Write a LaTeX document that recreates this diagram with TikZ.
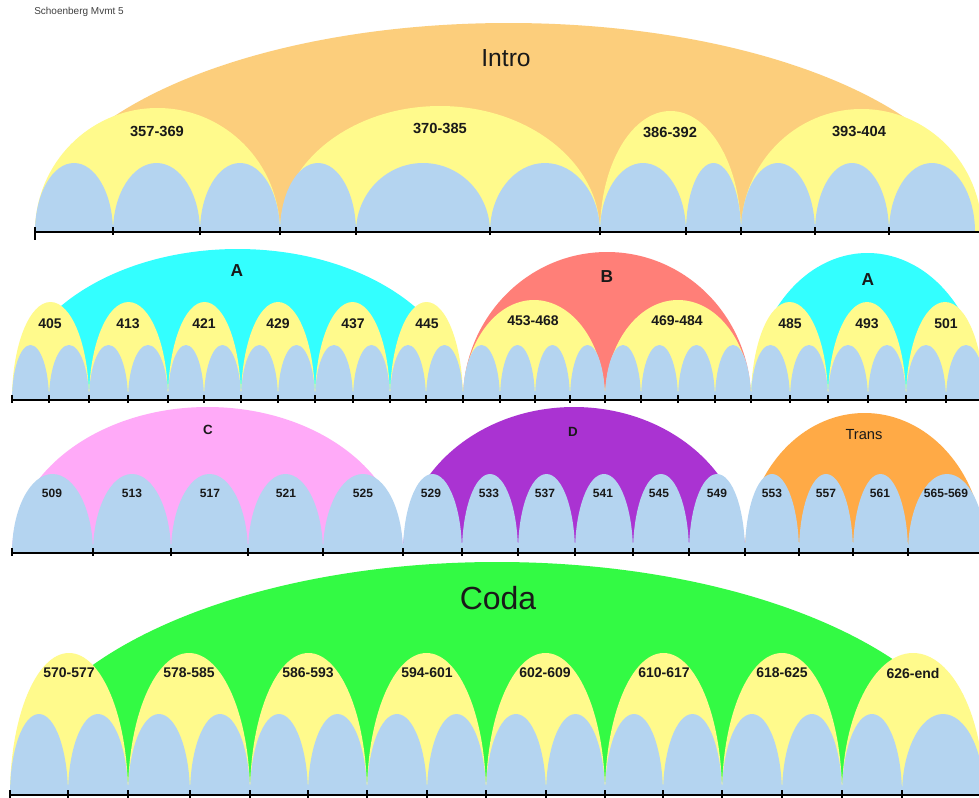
\documentclass[tikz,border=0pt]{standalone}
\usepackage{fontspec}
\setmainfont{Liberation Sans}

\definecolor{blu}{HTML}{B4D4F0}
\definecolor{yel}{HTML}{FFFA8C}
\definecolor{introc}{HTML}{FCCE7C}
\definecolor{cyanA}{HTML}{33FFFF}
\definecolor{redB}{HTML}{FF7F78}
\definecolor{pinkC}{HTML}{FFAAF8}
\definecolor{purpD}{HTML}{AA33D2}
\definecolor{transc}{HTML}{FFAA46}
\definecolor{greenc}{HTML}{33FA44}

% half-ellipse standing on the current baseline \yb: from x=#1 to x=#2, height #3, colour #4
\newcommand\harc[4]{\fill[#4] ({(#1+#2)/2},\yb) ellipse[x radius={(#2-#1)/2}, y radius=#3];}

\begin{document}
\begin{tikzpicture}[x=0.75pt,y=-0.75pt,
  axis/.style={line width=1.6pt, black},
  tickmark/.style={line width=1.4pt, black},
  lab/.style={inner sep=0pt, anchor=center, text=black!90},
  numA/.style={lab, font=\bfseries\fontsize{11}{12}\selectfont},
  numB/.style={lab, font=\bfseries\fontsize{10.5}{12}\selectfont},
  numC/.style={lab, font=\bfseries\fontsize{9}{10}\selectfont},
  sect/.style={lab, font=\bfseries\fontsize{13}{14}\selectfont},
  sectS/.style={lab, font=\bfseries\fontsize{10}{12}\selectfont},
  big/.style={lab, font=\fontsize{18.5}{20}\selectfont},
  huge/.style={lab, font=\fontsize{24}{26}\selectfont}]
\useasboundingbox (0,0) rectangle (979,797);
\fill[white] (0,0) rectangle (979,797);
\clip (0,0) rectangle (979,797);

\node[lab, anchor=west, text=black!75, font=\fontsize{7.5}{9}\selectfont] (title) at (34,12) {Schoenberg Mvmt 5};

% ---------- Intro ----------
\def\yb{232}
\begin{scope}
\clip (0,0) rectangle (979,\yb);
\harc{35}{982}{209}{introc}
\harc{35}{280}{124}{yel}
\harc{280}{600}{126}{yel}
\harc{600}{741}{121}{yel}
\harc{741}{982}{123}{yel}
\foreach \a/\b in {35/113,113/200,200/280,280/356,356/490,490/600,600/686,686/741,741/815,815/889,889/975}
  {\harc{\a}{\b}{69}{blu}}
\end{scope}
\draw[axis] (35,\yb) -- (979,\yb);
\draw[tickmark] (35,\yb-5) -- (35,\yb+8);
\foreach \x in {113,200,280,356,490,600,686,741,815,889}
  {\draw[tickmark] (\x,\yb-5) -- (\x,\yb+3);}
\node[big] (intro) at (506,58) {Intro};
\node[numA] (m357) at (157,131) {357-369};
\node[numA] (m370) at (440,128) {370-385};
\node[numA] (m386) at (670,132) {386-392};
\node[numA] (m393) at (859,131) {393-404};

% ---------- A B A ----------
\def\yb{400}
\begin{scope}
\clip (0,236) rectangle (979,\yb);
\harc{12}{463}{151}{cyanA}
\harc{463}{751}{148}{redB}
\harc{751}{984}{147}{cyanA}
\foreach \a/\b in {12/89,89/168,168/241,241/315,315/390,390/463,751/828,828/906,906/984}
  {\harc{\a}{\b}{98}{yel}}
\foreach \a/\b in {463/605,605/751}
  {\harc{\a}{\b}{100}{yel}}
\foreach \a/\b in {12/49,49/89,89/128,128/168,168/204,204/241,241/278,278/315,315/353,353/390,390/426,426/463,463/500,500/535,535/570,570/605,605/641,641/678,678/715,715/751,751/790,790/828,828/868,868/906,906/946,946/986}
  {\harc{\a}{\b}{55}{blu}}
\end{scope}
\draw[axis] (12,\yb) -- (979,\yb);
\foreach \x in {12,49,89,128,168,204,241,278,315,353,390,426,463,500,535,570,605,641,678,715,751,790,828,868,906,946}
  {\draw[tickmark] (\x,\yb-5) -- (\x,\yb+3);}
\node[sect] (secA) at (237,271) {A};
\node[sect] (secB) at (607,277) {B};
\node[sect] (secA2) at (868,280) {A};
\node[numB] (m405) at (50,324) {405};
\node[numB] (m413) at (128,324) {413};
\node[numB] (m421) at (204,324) {421};
\node[numB] (m429) at (278,324) {429};
\node[numB] (m437) at (353,324) {437};
\node[numB] (m445) at (427,324) {445};
\node[numB] (m453) at (533,321) {453-468};
\node[numB] (m469) at (677,321) {469-484};
\node[numB] (m485) at (790,324) {485};
\node[numB] (m493) at (867,324) {493};
\node[numB] (m501) at (946,324) {501};

% ---------- C D Trans ----------
\def\yb{553}
\begin{scope}
\clip (0,404) rectangle (979,\yb);
\harc{12}{403}{146}{pinkC}
\harc{403}{745}{146}{purpD}
\harc{745}{984}{140}{transc}
\foreach \a/\b in {12/93,93/171,171/248,248/323,323/403,403/462,462/518,518/575,575/633,633/689,689/745,745/799,799/853,853/908,908/986}
  {\harc{\a}{\b}{79}{blu}}
\end{scope}
\draw[axis] (12,\yb) -- (979,\yb);
\foreach \x in {12,93,171,248,323,403,462,518,575,633,689,745,799,853,908}
  {\draw[tickmark] (\x,\yb-5) -- (\x,\yb+3);}
\node[sectS] (secC) at (208,430) {C};
\node[sectS] (secD) at (573,432) {D};
\node[lab, font=\fontsize{11}{12}\selectfont] (secT) at (864,435) {Trans};
\node[numC] (m509) at (52,493) {509};
\node[numC] (m513) at (132,493) {513};
\node[numC] (m517) at (210,493) {517};
\node[numC] (m521) at (286,493) {521};
\node[numC] (m525) at (363,493) {525};
\node[numC] (m529) at (431,493) {529};
\node[numC] (m533) at (489,493) {533};
\node[numC] (m537) at (545,493) {537};
\node[numC] (m541) at (603,493) {541};
\node[numC] (m545) at (659,493) {545};
\node[numC] (m549) at (717,493) {549};
\node[numC] (m553) at (772,493) {553};
\node[numC] (m557) at (826,493) {557};
\node[numC] (m561) at (880,493) {561};
\node[numC] (m565) at (946,493) {565-569};

% ---------- Coda ----------
\def\yb{795}
\begin{scope}
\clip (0,557) rectangle (979,\yb);
\harc{10}{984}{233}{greenc}
\foreach \a/\b in {10/128,128/250,250/367,367/486,486/605,605/722,722/842,842/984}
  {\harc{\a}{\b}{142}{yel}}
\foreach \a/\b in {10/68,68/128,128/190,190/250,250/308,308/367,367/427,427/486,486/546,546/605,605/663,663/722,722/782,782/842,842/902,902/984}
  {\harc{\a}{\b}{81}{blu}}
\end{scope}
\draw[axis] (10,\yb) -- (979,\yb);
\foreach \x in {10,68,128,190,250,308,367,427,486,546,605,663,722,782,842,902}
  {\draw[tickmark] (\x,\yb-5) -- (\x,\yb+3);}
\node[huge] (coda) at (498,598) {Coda};
\node[numB] (m570) at (69,673) {570-577};
\node[numB] (m578) at (189,673) {578-585};
\node[numB] (m586) at (308,673) {586-593};
\node[numB] (m594) at (427,673) {594-601};
\node[numB] (m602) at (545,673) {602-609};
\node[numB] (m610) at (664,673) {610-617};
\node[numB] (m618) at (782,673) {618-625};
\node[numB] (m626) at (913,673) {626-end};
\end{tikzpicture}
\end{document}
